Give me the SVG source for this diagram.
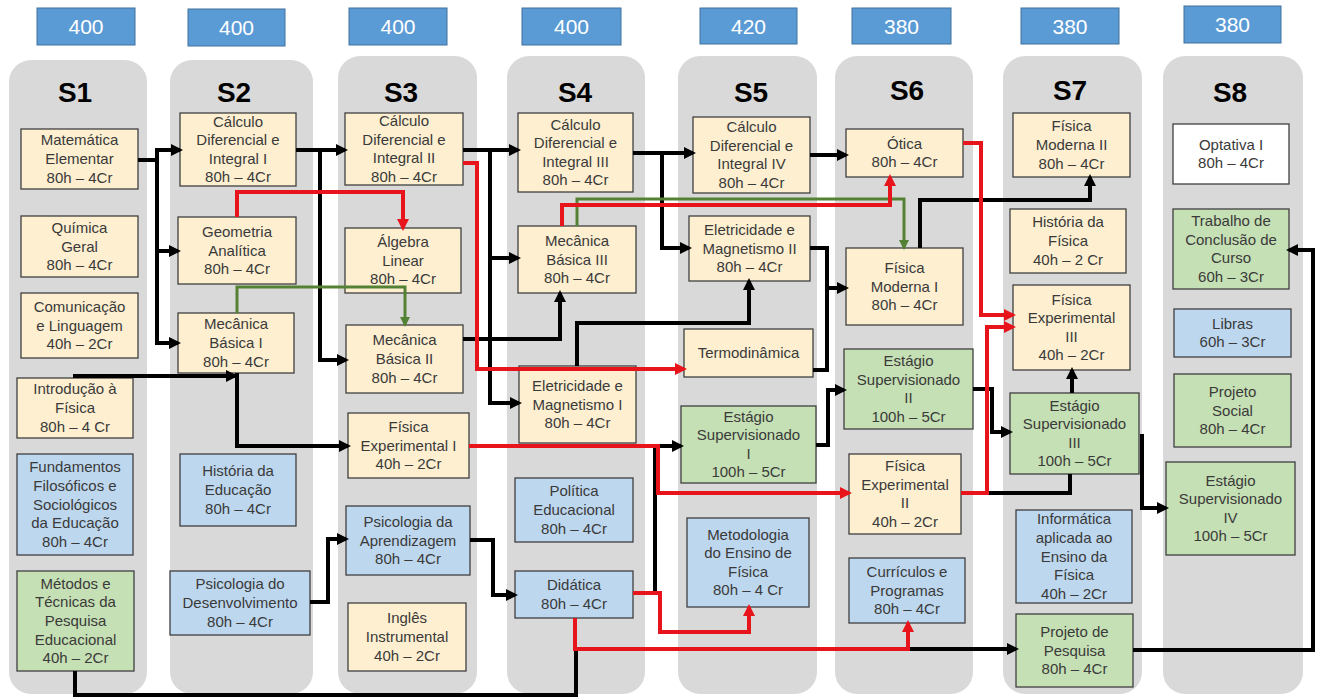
<svg xmlns="http://www.w3.org/2000/svg" width="1319" height="699" viewBox="0 0 1319 699">
<defs>
<style>
.col{fill:#d9d9d9}
.tot{fill:#5b9bd5;stroke:#41719c;stroke-width:1}
.tott{font-family:"Liberation Sans",Arial,sans-serif;font-size:21px;fill:#ffffff;text-anchor:middle}
.hd{font-family:"Liberation Sans",Arial,sans-serif;font-size:28px;font-weight:bold;fill:#000000;text-anchor:middle}
.y{fill:#fdefd0;stroke:#3f3f3f;stroke-width:1.3}
.b{fill:#bdd7ee;stroke:#3f3f3f;stroke-width:1.3}
.g{fill:#c5e0b4;stroke:#3f3f3f;stroke-width:1.3}
.w{fill:#ffffff;stroke:#3f3f3f;stroke-width:1.3}
.t{font-family:"Liberation Sans",Arial,sans-serif;font-size:15px;fill:#3a3a3a;text-anchor:middle}
.k{fill:none;stroke:#000000;stroke-width:4}
.r{fill:none;stroke:#e8141b;stroke-width:4}
.gr{fill:none;stroke:#548235;stroke-width:3}
</style>
<marker id="ak" markerUnits="userSpaceOnUse" markerWidth="13" markerHeight="13" refX="9" refY="6" orient="auto"><path d="M0,0 L12,6 L0,12 z" fill="#000000"/></marker>
<marker id="ar" markerUnits="userSpaceOnUse" markerWidth="13" markerHeight="13" refX="9" refY="6" orient="auto"><path d="M0,0 L12,6 L0,12 z" fill="#e8141b"/></marker>
<marker id="ag" markerUnits="userSpaceOnUse" markerWidth="11" markerHeight="11" refX="8" refY="5" orient="auto"><path d="M0,0 L10,5 L0,10 z" fill="#548235"/></marker>
</defs>
<rect width="1319" height="699" fill="#ffffff"/>

<g id="columns">
<rect class="col" x="9" y="60" width="138" height="634" rx="22"/>
<rect class="col" x="170" y="60" width="143" height="634" rx="22"/>
<rect class="col" x="338" y="56" width="139" height="638" rx="22"/>
<rect class="col" x="507" y="56" width="138" height="638" rx="22"/>
<rect class="col" x="678" y="56" width="139" height="638" rx="22"/>
<rect class="col" x="835" y="56" width="138" height="638" rx="22"/>
<rect class="col" x="1003" y="56" width="139" height="638" rx="22"/>
<rect class="col" x="1163" y="56" width="140" height="638" rx="22"/>
</g>

<g id="totals">
<rect class="tot" x="37" y="8" width="98" height="37"/><text class="tott" x="86" y="34">400</text>
<rect class="tot" x="188" y="9" width="97" height="37"/><text class="tott" x="236.5" y="35">400</text>
<rect class="tot" x="349" y="8" width="98" height="37"/><text class="tott" x="398" y="34">400</text>
<rect class="tot" x="522" y="8" width="99" height="37"/><text class="tott" x="571.5" y="34">400</text>
<rect class="tot" x="700" y="8" width="97" height="36"/><text class="tott" x="748.5" y="34">420</text>
<rect class="tot" x="852" y="8" width="99" height="36"/><text class="tott" x="901.5" y="34">380</text>
<rect class="tot" x="1021" y="8" width="98" height="36"/><text class="tott" x="1070" y="34">380</text>
<rect class="tot" x="1184" y="6" width="97" height="37"/><text class="tott" x="1232.5" y="32">380</text>
</g>

<g id="headers">
<text class="hd" x="75" y="102">S1</text>
<text class="hd" x="234" y="102">S2</text>
<text class="hd" x="401" y="102">S3</text>
<text class="hd" x="575" y="102">S4</text>
<text class="hd" x="751" y="102">S5</text>
<text class="hd" x="907" y="100">S6</text>
<text class="hd" x="1070" y="100">S7</text>
<text class="hd" x="1230" y="102">S8</text>
</g>

<g id="matematica-elementar"><rect class="y" x="21" y="129" width="117" height="60"/><text class="t"><tspan x="79.5" y="145.4">Matemática</tspan><tspan x="79.5" y="164">Elementar</tspan><tspan x="79.5" y="182.6">80h – 4Cr</tspan></text></g>
<g id="quimica-geral"><rect class="y" x="21" y="216" width="117" height="61"/><text class="t"><tspan x="79.5" y="232.9">Química</tspan><tspan x="79.5" y="251.5">Geral</tspan><tspan x="79.5" y="270.1">80h – 4Cr</tspan></text></g>
<g id="comunicacao-linguagem"><rect class="y" x="21" y="293" width="117" height="65"/><text class="t"><tspan x="79.5" y="311.9">Comunicação</tspan><tspan x="79.5" y="330.5">e Linguagem</tspan><tspan x="79.5" y="349.1">40h – 2Cr</tspan></text></g>
<g id="introducao-fisica"><rect class="y" x="17" y="378" width="116" height="60"/><text class="t"><tspan x="75" y="394.4">Introdução à</tspan><tspan x="75" y="413">Física</tspan><tspan x="75" y="431.6">80h – 4 Cr</tspan></text></g>
<g id="fundamentos"><rect class="b" x="17" y="454" width="116" height="101"/><text class="t"><tspan x="75" y="472.3">Fundamentos</tspan><tspan x="75" y="490.9">Filosóficos e</tspan><tspan x="75" y="509.5">Sociológicos</tspan><tspan x="75" y="528.1">da Educação</tspan><tspan x="75" y="546.7">80h – 4Cr</tspan></text></g>
<g id="metodos-tecnicas"><rect class="g" x="17" y="571" width="117" height="100"/><text class="t"><tspan x="75.5" y="588.8">Métodos e</tspan><tspan x="75.5" y="607.4">Técnicas da</tspan><tspan x="75.5" y="626">Pesquisa</tspan><tspan x="75.5" y="644.6">Educacional</tspan><tspan x="75.5" y="663.2">40h – 2Cr</tspan></text></g>

<g id="calculo-1"><rect class="y" x="180" y="113" width="116" height="73"/><text class="t"><tspan x="238" y="126.6">Cálculo</tspan><tspan x="238" y="145.2">Diferencial e</tspan><tspan x="238" y="163.8">Integral I</tspan><tspan x="238" y="182.4">80h – 4Cr</tspan></text></g>
<g id="geometria-analitica"><rect class="y" x="178" y="217" width="118" height="67"/><text class="t"><tspan x="237" y="236.9">Geometria</tspan><tspan x="237" y="255.5">Analítica</tspan><tspan x="237" y="274.1">80h – 4Cr</tspan></text></g>
<g id="mecanica-1"><rect class="y" x="178" y="313" width="116" height="60"/><text class="t"><tspan x="236" y="329.4">Mecânica</tspan><tspan x="236" y="348">Básica I</tspan><tspan x="236" y="366.6">80h – 4Cr</tspan></text></g>
<g id="historia-educacao"><rect class="b" x="180" y="454" width="116" height="72"/><text class="t"><tspan x="238" y="476.4">História da</tspan><tspan x="238" y="495">Educação</tspan><tspan x="238" y="513.6">80h – 4Cr</tspan></text></g>
<g id="psicologia-desenvolvimento"><rect class="b" x="170" y="571" width="140" height="64"/><text class="t"><tspan x="240" y="589.4">Psicologia do</tspan><tspan x="240" y="608">Desenvolvimento</tspan><tspan x="240" y="626.6">80h – 4Cr</tspan></text></g>

<g id="calculo-2"><rect class="y" x="345" y="113" width="118" height="72"/><text class="t"><tspan x="404" y="126.1">Cálculo</tspan><tspan x="404" y="144.7">Diferencial e</tspan><tspan x="404" y="163.3">Integral II</tspan><tspan x="404" y="181.9">80h – 4Cr</tspan></text></g>
<g id="algebra-linear"><rect class="y" x="345" y="228" width="116" height="65"/><text class="t"><tspan x="403" y="246.9">Álgebra</tspan><tspan x="403" y="265.5">Linear</tspan><tspan x="403" y="284.1">80h – 4Cr</tspan></text></g>
<g id="mecanica-2"><rect class="y" x="346" y="325" width="117" height="68"/><text class="t"><tspan x="404.5" y="345.4">Mecânica</tspan><tspan x="404.5" y="364">Básica II</tspan><tspan x="404.5" y="382.6">80h – 4Cr</tspan></text></g>
<g id="fisica-experimental-1"><rect class="y" x="348" y="413" width="121" height="65"/><text class="t"><tspan x="408.5" y="431.9">Física</tspan><tspan x="408.5" y="450.5">Experimental I</tspan><tspan x="408.5" y="469.1">40h – 2Cr</tspan></text></g>
<g id="psicologia-aprendizagem"><rect class="b" x="346" y="506" width="124" height="69"/><text class="t"><tspan x="408" y="526.9">Psicologia da</tspan><tspan x="408" y="545.5">Aprendizagem</tspan><tspan x="408" y="564.1">80h – 4Cr</tspan></text></g>
<g id="ingles-instrumental"><rect class="y" x="348" y="603" width="118" height="68"/><text class="t"><tspan x="407" y="623.4">Inglês</tspan><tspan x="407" y="642">Instrumental</tspan><tspan x="407" y="660.6">40h – 2Cr</tspan></text></g>

<g id="calculo-3"><rect class="y" x="518" y="113" width="115" height="79"/><text class="t"><tspan x="575.5" y="129.6">Cálculo</tspan><tspan x="575.5" y="148.2">Diferencial e</tspan><tspan x="575.5" y="166.8">Integral III</tspan><tspan x="575.5" y="185.4">80h – 4Cr</tspan></text></g>
<g id="mecanica-3"><rect class="y" x="518" y="226" width="118" height="67"/><text class="t"><tspan x="577" y="245.9">Mecânica</tspan><tspan x="577" y="264.5">Básica III</tspan><tspan x="577" y="283.1">80h – 4Cr</tspan></text></g>
<g id="eletricidade-1"><rect class="y" x="519" y="366" width="117" height="77"/><text class="t"><tspan x="577.5" y="390.9">Eletricidade e</tspan><tspan x="577.5" y="409.5">Magnetismo I</tspan><tspan x="577.5" y="428.1">80h – 4Cr</tspan></text></g>
<g id="politica-educacional"><rect class="b" x="515" y="478" width="118" height="64"/><text class="t"><tspan x="574" y="496.4">Política</tspan><tspan x="574" y="515">Educacional</tspan><tspan x="574" y="533.6">80h – 4Cr</tspan></text></g>
<g id="didatica"><rect class="b" x="515" y="571" width="118" height="47"/><text class="t"><tspan x="574" y="590.2">Didática</tspan><tspan x="574" y="608.8">80h – 4Cr</tspan></text></g>

<g id="calculo-4"><rect class="y" x="693" y="117" width="117" height="76"/><text class="t"><tspan x="751.5" y="132.1">Cálculo</tspan><tspan x="751.5" y="150.7">Diferencial e</tspan><tspan x="751.5" y="169.3">Integral IV</tspan><tspan x="751.5" y="187.9">80h – 4Cr</tspan></text></g>
<g id="eletricidade-2"><rect class="y" x="689" y="216" width="121" height="65"/><text class="t"><tspan x="749.5" y="234.9">Eletricidade e</tspan><tspan x="749.5" y="253.5">Magnetismo II</tspan><tspan x="749.5" y="272.1">80h – 4Cr</tspan></text></g>
<g id="termodinamica"><rect class="y" x="684" y="329" width="129" height="48"/><text class="t"><tspan x="748.5" y="358">Termodinâmica</tspan></text></g>
<g id="estagio-1"><rect class="g" x="681" y="406" width="135" height="77"/><text class="t"><tspan x="748.5" y="421.6">Estágio</tspan><tspan x="748.5" y="440.2">Supervisionado</tspan><tspan x="748.5" y="458.8">I</tspan><tspan x="748.5" y="477.4">100h – 5Cr</tspan></text></g>
<g id="metodologia-ensino"><rect class="b" x="687" y="518" width="122" height="89"/><text class="t"><tspan x="748" y="539.6">Metodologia</tspan><tspan x="748" y="558.2">do Ensino de</tspan><tspan x="748" y="576.8">Física</tspan><tspan x="748" y="595.4">80h – 4 Cr</tspan></text></g>

<g id="otica"><rect class="y" x="846" y="129" width="117" height="48"/><text class="t"><tspan x="904.5" y="148.7">Ótica</tspan><tspan x="904.5" y="167.3">80h – 4Cr</tspan></text></g>
<g id="fisica-moderna-1"><rect class="y" x="846" y="248" width="117" height="77"/><text class="t"><tspan x="904.5" y="272.9">Física</tspan><tspan x="904.5" y="291.5">Moderna I</tspan><tspan x="904.5" y="310.1">80h – 4Cr</tspan></text></g>
<g id="estagio-2"><rect class="g" x="844" y="349" width="129" height="80"/><text class="t"><tspan x="908.5" y="366.1">Estágio</tspan><tspan x="908.5" y="384.7">Supervisionado</tspan><tspan x="908.5" y="403.3">II</tspan><tspan x="908.5" y="421.9">100h – 5Cr</tspan></text></g>
<g id="fisica-experimental-2"><rect class="y" x="849" y="454" width="112" height="80"/><text class="t"><tspan x="905" y="471.1">Física</tspan><tspan x="905" y="489.7">Experimental</tspan><tspan x="905" y="508.3">II</tspan><tspan x="905" y="526.9">40h – 2Cr</tspan></text></g>
<g id="curriculos-programas"><rect class="b" x="849" y="558" width="116" height="65"/><text class="t"><tspan x="907" y="576.9">Currículos e</tspan><tspan x="907" y="595.5">Programas</tspan><tspan x="907" y="614.1">80h – 4Cr</tspan></text></g>

<g id="fisica-moderna-2"><rect class="y" x="1013" y="113" width="117" height="64"/><text class="t"><tspan x="1071.5" y="131.4">Física</tspan><tspan x="1071.5" y="150">Moderna II</tspan><tspan x="1071.5" y="168.6">80h – 4Cr</tspan></text></g>
<g id="historia-fisica"><rect class="y" x="1010" y="209" width="116" height="64"/><text class="t"><tspan x="1068" y="227.4">História da</tspan><tspan x="1068" y="246">Física</tspan><tspan x="1068" y="264.6">40h – 2 Cr</tspan></text></g>
<g id="fisica-experimental-3"><rect class="y" x="1013" y="285" width="117" height="85"/><text class="t"><tspan x="1071.5" y="304.6">Física</tspan><tspan x="1071.5" y="323.2">Experimental</tspan><tspan x="1071.5" y="341.8">III</tspan><tspan x="1071.5" y="360.4">40h – 2Cr</tspan></text></g>
<g id="estagio-3"><rect class="g" x="1010" y="393" width="129" height="81"/><text class="t"><tspan x="1074.5" y="410.6">Estágio</tspan><tspan x="1074.5" y="429.2">Supervisionado</tspan><tspan x="1074.5" y="447.8">III</tspan><tspan x="1074.5" y="466.4">100h – 5Cr</tspan></text></g>
<g id="informatica-ensino"><rect class="b" x="1016" y="510" width="116" height="93"/><text class="t"><tspan x="1074" y="524.3">Informática</tspan><tspan x="1074" y="542.9">aplicada ao</tspan><tspan x="1074" y="561.5">Ensino da</tspan><tspan x="1074" y="580.1">Física</tspan><tspan x="1074" y="598.7">40h – 2Cr</tspan></text></g>
<g id="projeto-pesquisa"><rect class="g" x="1016" y="614" width="117" height="73"/><text class="t"><tspan x="1074.5" y="636.9">Projeto de</tspan><tspan x="1074.5" y="655.5">Pesquisa</tspan><tspan x="1074.5" y="674.1">80h – 4Cr</tspan></text></g>

<g id="optativa-1"><rect class="w" x="1173" y="124" width="116" height="60"/><text class="t"><tspan x="1231" y="149.7">Optativa I</tspan><tspan x="1231" y="168.3">80h – 4Cr</tspan></text></g>
<g id="tcc"><rect class="g" x="1173" y="209" width="116" height="80"/><text class="t"><tspan x="1231" y="226.1">Trabalho de</tspan><tspan x="1231" y="244.7">Conclusão de</tspan><tspan x="1231" y="263.3">Curso</tspan><tspan x="1231" y="281.9">60h – 3Cr</tspan></text></g>
<g id="libras"><rect class="b" x="1174" y="309" width="117" height="48"/><text class="t"><tspan x="1232.5" y="328.7">Libras</tspan><tspan x="1232.5" y="347.3">60h – 3Cr</tspan></text></g>
<g id="projeto-social"><rect class="g" x="1174" y="374" width="117" height="73"/><text class="t"><tspan x="1232.5" y="396.9">Projeto</tspan><tspan x="1232.5" y="415.5">Social</tspan><tspan x="1232.5" y="434.1">80h – 4Cr</tspan></text></g>
<g id="estagio-4"><rect class="g" x="1166" y="462" width="129" height="93"/><text class="t"><tspan x="1230.5" y="485.6">Estágio</tspan><tspan x="1230.5" y="504.2">Supervisionado</tspan><tspan x="1230.5" y="522.8">IV</tspan><tspan x="1230.5" y="541.4">100h – 5Cr</tspan></text></g>

<g id="connectors">
<g id="black">
<path class="k" d="M138,160 H157"/>
<path class="k" d="M157,148 V345"/>
<path class="k" d="M157,150 H180" marker-end="url(#ak)"/>
<path class="k" d="M157,251 H178" marker-end="url(#ak)"/>
<path class="k" d="M157,343 H178" marker-end="url(#ak)"/>
<path class="k" d="M296,150 H345" marker-end="url(#ak)"/>
<path class="k" d="M320,150 V362"/>
<path class="k" d="M320,360 H346" marker-end="url(#ak)"/>
<path class="k" d="M73,376 H235" marker-end="url(#ak)"/>
<path class="k" d="M237,373 V446 H348" marker-end="url(#ak)"/>
<path class="k" d="M463,150 H518" marker-end="url(#ak)"/>
<path class="k" d="M490,150 V405"/>
<path class="k" d="M490,258 H518" marker-end="url(#ak)"/>
<path class="k" d="M490,403 H519" marker-end="url(#ak)"/>
<path class="k" d="M463,339 H560 V293" marker-end="url(#ak)"/>
<path class="k" d="M577,366 V323 H749 V281" marker-end="url(#ak)"/>
<path class="k" d="M633,153 H693" marker-end="url(#ak)"/>
<path class="k" d="M662,151 V250"/>
<path class="k" d="M662,248 H689" marker-end="url(#ak)"/>
<path class="k" d="M810,155 H846" marker-end="url(#ak)"/>
<path class="k" d="M810,248 H827 V370 H813"/>
<path class="k" d="M827,288 H846" marker-end="url(#ak)"/>
<path class="k" d="M920,248 V200 H1090 V177" marker-end="url(#ak)"/>
<path class="k" d="M816,445 H828 V390 H844" marker-end="url(#ak)"/>
<path class="k" d="M973,389 H992 V432 H1010" marker-end="url(#ak)"/>
<path class="k" d="M1072,393 V370" marker-end="url(#ak)"/>
<path class="k" d="M1142,434 V508 H1166" marker-end="url(#ak)"/>
<path class="k" d="M985,493 H1070 V474"/>
<path class="k" d="M633,593 H655 V446 H681" marker-end="url(#ak)"/>
<path class="k" d="M75,671 V695 H576 V649 H1016" marker-end="url(#ak)"/>
<path class="k" d="M310,602 H328 V539 H346" marker-end="url(#ak)"/>
<path class="k" d="M470,540 H493 V595 H515" marker-end="url(#ak)"/>
<path class="k" d="M1133,650 H1313 V250 H1289" marker-end="url(#ak)"/>
</g>
<g id="green">
<path class="gr" d="M237,313 V287 H405 V325" marker-end="url(#ag)"/>
<path class="gr" d="M577,226 V199 H904 V248" marker-end="url(#ag)"/>
</g>
<g id="red">
<path class="r" d="M237,217 V192 H403 V228" marker-end="url(#ar)"/>
<path class="r" d="M463,163 H477 V369 H684" marker-end="url(#ar)"/>
<path class="r" d="M562,226 V205 H890 V177" marker-end="url(#ar)"/>
<path class="r" d="M963,143 H981 V315 H1013" marker-end="url(#ar)"/>
<path class="r" d="M961,493 H987 V327 H1013" marker-end="url(#ar)"/>
<path class="r" d="M469,446 H658 V493 H849" marker-end="url(#ar)"/>
<path class="r" d="M633,593 H660 V632 H749 V607" marker-end="url(#ar)"/>
<path class="r" d="M575,618 V649 H908 V623" marker-end="url(#ar)"/>
</g>
</g>
</svg>
